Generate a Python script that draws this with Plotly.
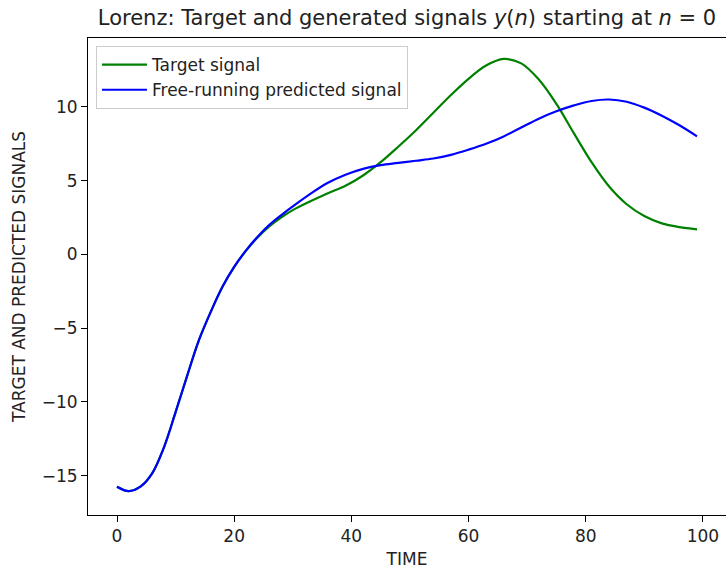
import plotly.graph_objects as go

# Time index samples and the two Lorenz y(n) series
n_target = [0, 2, 4, 6, 8, 10, 12, 14, 16, 18, 20, 22, 24, 26, 28, 30, 33, 36, 39, 42,
            45, 48, 51, 54, 57, 60, 63, 66, 69, 72, 75, 78, 81, 84, 87, 90, 93, 96, 99]
y_target = [-15.75, -16.05, -15.75, -14.85, -13.1, -10.7, -8.2, -5.8, -3.9, -2.2, -0.85, 0.25,
            1.15, 1.9, 2.5, 3.0, 3.6, 4.15, 4.65, 5.35, 6.25, 7.3, 8.4, 9.6, 10.8, 11.9, 12.8,
            13.25, 12.95, 11.85, 10.2, 8.2, 6.25, 4.6, 3.4, 2.6, 2.1, 1.85, 1.7]

n_pred = [0, 2, 4, 6, 8, 10, 12, 14, 16, 18, 20, 22, 24, 26, 28, 30, 33, 36, 39, 42,
          45, 48, 51, 54, 57, 60, 63, 66, 69, 72, 75, 78, 81, 84, 87, 90, 93, 96, 99]
y_pred = [-15.75, -16.05, -15.75, -14.85, -13.1, -10.7, -8.2, -5.8, -3.9, -2.2, -0.85, 0.25,
          1.2, 2.0, 2.65, 3.25, 4.1, 4.85, 5.4, 5.8, 6.05, 6.2, 6.35, 6.5, 6.75, 7.1, 7.5,
          8.0, 8.6, 9.2, 9.7, 10.1, 10.4, 10.5, 10.35, 9.95, 9.4, 8.75, 8.0]

x_ticks = [0, 20, 40, 60, 80, 100]
y_ticks = [-15, -10, -5, 0, 5, 10]

font = "DejaVu Sans"
ink = "#222222"

fig = go.Figure()
fig.add_trace(go.Scatter(x=n_target, y=y_target, mode="lines", name="Target signal",
                         line=dict(color="#008000", width=2.2, shape="spline", smoothing=1.0)))
fig.add_trace(go.Scatter(x=n_pred, y=y_pred, mode="lines", name="Free-running predicted signal",
                         line=dict(color="#0000ff", width=2.2, shape="spline", smoothing=1.0)))

axis_common = dict(showgrid=False, zeroline=False, showline=True, linecolor="black",
                   linewidth=1, mirror=True, ticks="outside", ticklen=6, tickwidth=1,
                   tickcolor="black", tickfont=dict(family=font, size=17, color=ink))

fig.update_layout(
    width=726, height=571,
    margin=dict(l=88, r=0, t=38, b=56),
    paper_bgcolor="white", plot_bgcolor="white",
    title=dict(text="Lorenz: Target and generated signals <i>y</i>(<i>n</i>) starting at <i>n</i> = 0",
               x=(88 + 726) / 2 / 726, xanchor="center", y=1 - 18 / 571, yanchor="middle",
               font=dict(family=font, size=21, color=ink)),
    xaxis=dict(range=[-4.95, 103.95], tickvals=x_ticks,
               title=dict(text="TIME", font=dict(family=font, size=17, color=ink), standoff=7),
               **axis_common),
    yaxis=dict(range=[-17.67, 14.67], tickvals=y_ticks,
               ticktext=[("\u2212" + str(-v)) if v < 0 else str(v) for v in y_ticks],
               title=dict(text="TARGET AND PREDICTED SIGNALS", font=dict(family=font, size=17, color=ink),
                          standoff=11),
               **axis_common),
    legend=dict(x=0.0125, y=0.983, xanchor="left", yanchor="top",
                bgcolor="rgba(255,255,255,0.8)", bordercolor="#cccccc", borderwidth=1,
                font=dict(family=font, size=17, color=ink), tracegroupgap=0, itemwidth=45),
    showlegend=True,
)

fig.write_html("out.html")
